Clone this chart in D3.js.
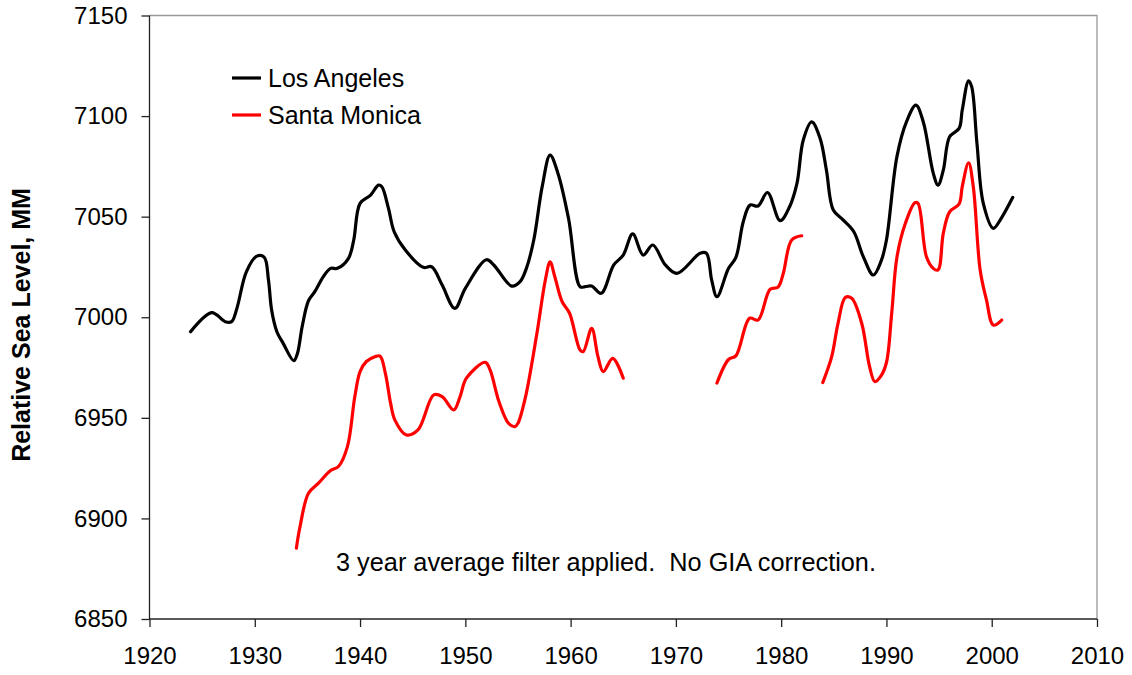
<!DOCTYPE html>
<html>
<head>
<meta charset="utf-8">
<script src="https://cdn.jsdelivr.net/npm/d3@7"></script>
<style>
  body { margin: 0; background: #fff; }
  text { font-family: "Liberation Sans", Arial, sans-serif; fill: #000; }
</style>
</head>
<body>
<svg width="1132" height="675"></svg>
<script>
// Los Angeles, 3 year average (year, mm)
var laYears = [1923.9, 1925.9, 1927.2, 1927.8, 1928.3, 1929.2, 1930.2, 1930.9, 1931.3, 1931.6,
    1932.1, 1932.7, 1933.7, 1934.05, 1934.5, 1935.1, 1935.7, 1936.5, 1937.2, 1937.85,
    1938.9, 1939.4, 1940.0, 1941.0, 1941.75, 1942.07, 1942.7, 1943.24, 1944.3, 1946.0,
    1946.8, 1947.8, 1949.0, 1950.0, 1952.0, 1952.7, 1954.4, 1955.2, 1955.8, 1956.5,
    1957.3, 1958.05, 1958.8, 1959.8, 1960.9, 1961.4, 1962.0, 1962.9, 1964.1, 1965.0,
    1965.9, 1966.9, 1967.8, 1969.0, 1970.1, 1972.3, 1972.9, 1973.4, 1973.9, 1975.0,
    1975.7, 1976.4, 1977.05, 1977.8, 1978.7, 1979.9, 1980.8, 1981.5, 1982.1, 1982.9,
    1983.7, 1984.3, 1984.95, 1985.9, 1986.9, 1987.8, 1988.75, 1989.5, 1990.0, 1991.0,
    1991.9, 1992.8, 1993.5, 1994.45, 1994.9, 1995.4, 1996.0, 1996.9, 1997.2, 1997.8,
    1998.1, 1998.6, 1999.2, 2000.15, 2000.8, 2002.0];
var laLevels = [6992.8, 7002.3, 6997.8, 6997.8, 7004.4, 7022.6, 7030.4, 7029.8, 7018.5, 7003.6,
    6992.8, 6987, 6978.4, 6982, 6995.3, 7008.2, 7012.7, 7020.1, 7024.3, 7024.3,
    7029.3, 7038.4, 7056.6, 7060.7, 7065.7, 7064.9, 7054.1, 7042.5, 7033.4, 7024.8,
    7025.1, 7016, 7004.4, 7014.4, 7028.6, 7026, 7015.5, 7017.7, 7024.3, 7038.4,
    7064.9, 7080.6, 7071.5, 7049.2, 7015.2, 7015.2, 7015.5, 7011.9, 7026, 7030.9,
    7041.4, 7030.9, 7035.9, 7026, 7021.8, 7031.8, 7031.8, 7018.5, 7010.2, 7024.3,
    7029.8, 7047.5, 7055.8, 7055.3, 7062, 7048, 7054.9, 7066.5, 7088.1, 7097.1,
    7088.9, 7073.1, 7053.3, 7048.3, 7042.5, 7030.1, 7021, 7028, 7038.4, 7080,
    7097.1, 7105.4, 7097.1, 7071.5, 7065.7, 7073.1, 7089.7, 7093.9, 7103, 7117.5,
    7114.5, 7086.3, 7056.6, 7044.2, 7048.3, 7059.6];

// Santa Monica, 3 year average (null marks a gap in the record)
var smYears = [1933.95, 1934.3, 1935.1, 1936.05, 1937.2, 1937.95, 1938.8, 1939.5, 1940.0, 1940.6,
    1941.4, 1941.9, 1942.4, 1942.9, 1943.3, 1944.4, 1945.5, 1947.0, 1947.8, 1948.9,
    1949.5, 1950.1, 1951.9, 1952.35, 1953.2, 1954.1, 1954.7, 1955.0, 1955.7, 1956.8,
    1957.6, 1958.05, 1958.5, 1959.2, 1959.9, 1960.9, 1961.2, 1962.0, 1962.6, 1963.1,
    1964.0, 1965.0, 1970,
    1973.9, 1975.0, 1975.7, 1977.0, 1977.8, 1978.95, 1979.7, 1980.2, 1981.0, 1981.95, 1983,
    1983.95, 1984.8, 1985.4, 1986.1, 1986.7, 1987.65, 1988.4, 1988.9, 1989.5, 1990.0,
    1990.5, 1991.0, 1991.8, 1992.7, 1993.0, 1993.8, 1994.45, 1994.9, 1995.4, 1996.0,
    1996.9, 1997.2, 1997.8, 1998.25, 1998.9, 1999.5, 2000.15, 2000.95];
var smLevels = [6885.2, 6896, 6912.5, 6917.5, 6923.8, 6925.8, 6935.7, 6960.5, 6973, 6978,
    6980.4, 6980.7, 6972.2, 6957.3, 6949, 6941.5, 6944, 6961.4, 6960.5, 6953.9,
    6960.5, 6969.7, 6977.6, 6973.8, 6958, 6947.3, 6945.6, 6947.3, 6960, 6992,
    7018.5, 7027.6, 7020.1, 7007.7, 7002, 6983.7, 6982.9, 6994.5, 6980.4, 6973,
    6979.6, 6969.7, null,
    6967.3, 6979, 6980.8, 6999.5, 6998.6, 7013.9, 7015, 7021.8, 7038.4, 7040.5, null,
    6967.5, 6980.4, 6997, 7009.9, 7009.4, 6997, 6975.4, 6968, 6971, 6977.5,
    7002, 7030, 7046.7, 7056.9, 7056.6, 7030.1, 7024.3, 7023.5, 7041.7, 7052.4,
    7056.3, 7064.9, 7076.8, 7064.9, 7023.5, 7008.6, 6996.1, 6998.6];

var xTicks = [1920, 1930, 1940, 1950, 1960, 1970, 1980, 1990, 2000, 2010];
var yTicks = [6850, 6900, 6950, 7000, 7050, 7100, 7150];

var seriesNames = ["Los Angeles", "Santa Monica"];
var seriesColors = ["#000000", "#ff0000"];

var svg = d3.select("svg");
var plotLeft = 149.5, plotRight = 1097, plotTop = 15.5, plotBottom = 619;

var x = d3.scaleLinear().domain([1920, 2010]).range([plotLeft, plotRight]);
var y = d3.scaleLinear().domain([6850, 7150]).range([plotBottom, plotTop]);

// top and right frame
svg.append("path")
    .attr("d", "M" + plotLeft + "," + plotTop + "H" + plotRight + "V" + plotBottom)
    .attr("fill", "none")
    .attr("stroke", "#999")
    .attr("stroke-width", 1.3);

var yAxis = svg.append("g")
    .attr("transform", "translate(" + plotLeft + ",0)")
    .call(d3.axisLeft(y).tickValues(yTicks).tickSize(8).tickPadding(14).tickFormat(d3.format("d")));

var xAxis = svg.append("g")
    .attr("transform", "translate(0," + plotBottom + ")")
    .call(d3.axisBottom(x).tickValues(xTicks).tickSize(8).tickPadding(20).tickFormat(d3.format("d")));

[yAxis, xAxis].forEach(function (g) {
    g.select(".domain").attr("stroke", "#222").attr("stroke-width", 1.3);
    g.selectAll(".tick line").attr("stroke", "#222").attr("stroke-width", 1.3);
    g.selectAll("text")
        .style("font-family", "'Liberation Sans', Arial, sans-serif")
        .style("font-size", "24px")
        .attr("fill", "#000");
});
// drop the outer ticks of the domain paths
yAxis.select(".domain").attr("d", "M0," + plotTop + "V" + plotBottom);
xAxis.select(".domain").attr("d", "M" + plotLeft + ",0H" + plotRight);

svg.append("text")
    .attr("transform", "translate(30,325) rotate(-90)")
    .attr("text-anchor", "middle")
    .style("font-size", "25px")
    .style("font-weight", "bold")
    .text("Relative Sea Level, MM");

var line = d3.line()
    .defined(function (d) { return d[1] !== null; })
    .curve(d3.curveCatmullRom.alpha(0.5))
    .x(function (d) { return x(d[0]); })
    .y(function (d) { return y(d[1]); });

var laData = d3.zip(laYears, laLevels);
var smData = d3.zip(smYears, smLevels);

svg.append("path")
    .datum(smData)
    .attr("d", line)
    .attr("fill", "none")
    .attr("stroke", seriesColors[1])
    .attr("stroke-width", 3.2)
    .attr("stroke-linejoin", "round")
    .attr("stroke-linecap", "round");

svg.append("path")
    .datum(laData)
    .attr("d", line)
    .attr("fill", "none")
    .attr("stroke", seriesColors[0])
    .attr("stroke-width", 3.2)
    .attr("stroke-linejoin", "round")
    .attr("stroke-linecap", "round");

// legend
var legend = svg.append("g").attr("transform", "translate(232,78)");
var item = legend.selectAll("g")
    .data(seriesNames)
    .enter()
    .append("g")
    .attr("transform", function (d, i) { return "translate(0," + (i * 37) + ")"; });
item.append("line")
    .attr("x1", 0).attr("x2", 29)
    .attr("stroke", function (d, i) { return seriesColors[i]; })
    .attr("stroke-width", 3.2);
item.append("text")
    .attr("x", 36)
    .attr("dy", "0.35em")
    .style("font-size", "25px")
    .text(function (d) { return d; });

svg.append("text")
    .attr("x", 336)
    .attr("y", 571)
    .style("font-size", "25.3px")
    .style("white-space", "pre")
    .text("3 year average filter applied.  No GIA correction.");
</script>
</body>
</html>
